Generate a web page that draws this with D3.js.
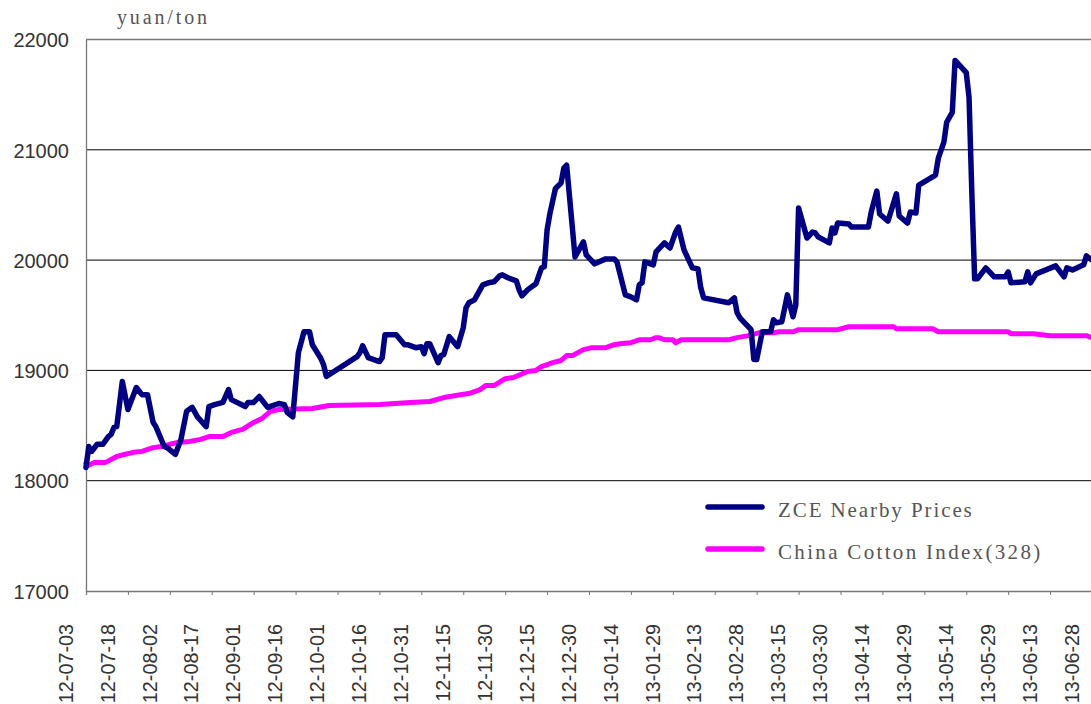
<!DOCTYPE html>
<html>
<head>
<meta charset="utf-8">
<script src="https://cdn.jsdelivr.net/npm/d3@7"></script>
<style>
  body { margin: 0; background: #fff; }
  svg { display: block; }
  .tick-label { font-family: 'Liberation Sans', Arial, sans-serif; fill: #333; }
  .serif { font-family: 'Liberation Serif', 'Times New Roman', serif; fill: #555; }
</style>
</head>
<body>
<div class="container"></div>
<script>
// ZCE nearby futures prices
const zceDates = [
  '2012-07-03', '2012-07-04', '2012-07-05', '2012-07-07', '2012-07-09', '2012-07-11', '2012-07-12', '2012-07-13',
  '2012-07-14', '2012-07-16', '2012-07-18', '2012-07-21', '2012-07-23', '2012-07-25', '2012-07-27', '2012-07-28',
  '2012-07-31', '2012-08-01', '2012-08-04', '2012-08-06', '2012-08-08', '2012-08-10', '2012-08-12', '2012-08-15',
  '2012-08-16', '2012-08-18', '2012-08-21', '2012-08-23', '2012-08-24', '2012-08-29', '2012-08-30', '2012-09-01',
  '2012-09-03', '2012-09-06', '2012-09-10', '2012-09-12', '2012-09-13', '2012-09-15', '2012-09-17', '2012-09-19',
  '2012-09-21', '2012-09-22', '2012-09-25', '2012-09-26', '2012-09-27', '2012-10-08', '2012-10-09', '2012-10-10',
  '2012-10-12', '2012-10-16', '2012-10-17', '2012-10-18', '2012-10-22', '2012-10-25', '2012-10-26', '2012-10-29',
  '2012-10-31', '2012-11-01', '2012-11-02', '2012-11-03', '2012-11-06', '2012-11-07', '2012-11-08', '2012-11-10',
  '2012-11-13', '2012-11-15', '2012-11-16', '2012-11-17', '2012-11-19', '2012-11-22', '2012-11-24', '2012-11-26',
  '2012-11-27', '2012-11-28', '2012-11-29', '2012-12-01', '2012-12-04', '2012-12-05', '2012-12-06', '2012-12-08',
  '2012-12-10', '2012-12-11', '2012-12-13', '2012-12-14', '2012-12-15', '2012-12-16', '2012-12-18', '2012-12-20',
  '2012-12-21', '2012-12-22', '2012-12-25', '2012-12-28', '2012-12-29', '2013-01-01', '2013-01-05', '2013-01-08',
  '2013-01-09', '2013-01-12', '2013-01-14', '2013-01-16', '2013-01-17', '2013-01-18', '2013-01-19', '2013-01-22',
  '2013-01-23', '2013-01-26', '2013-01-28', '2013-01-30', '2013-01-31', '2013-02-02', '2013-02-05', '2013-02-07',
  '2013-02-08', '2013-02-09', '2013-02-18', '2013-02-20', '2013-02-21', '2013-02-22', '2013-02-26', '2013-02-27',
  '2013-02-28', '2013-03-02', '2013-03-05', '2013-03-06', '2013-03-07', '2013-03-09', '2013-03-11', '2013-03-13',
  '2013-03-14', '2013-03-15', '2013-03-18', '2013-03-20', '2013-03-21', '2013-03-22', '2013-03-26', '2013-03-27',
  '2013-03-28', '2013-03-29', '2013-04-02', '2013-04-03', '2013-04-09', '2013-04-10', '2013-04-12', '2013-04-13',
  '2013-04-16', '2013-04-19', '2013-04-20', '2013-04-23', '2013-04-24', '2013-04-26', '2013-04-27', '2013-05-03',
  '2013-05-04', '2013-05-06', '2013-05-07', '2013-05-09', '2013-05-10', '2013-05-14', '2013-05-15', '2013-05-16',
  '2013-05-17', '2013-05-18', '2013-05-21', '2013-05-24', '2013-05-28', '2013-05-29', '2013-05-30', '2013-06-04',
  '2013-06-05', '2013-06-06', '2013-06-08', '2013-06-15', '2013-06-18', '2013-06-19', '2013-06-21', '2013-06-25',
  '2013-06-26', '2013-06-28'
];
const zcePrices = [
  18120, 18310, 18265, 18330, 18330, 18400, 18420, 18483,
  18490, 18900, 18645, 18845, 18780, 18780, 18530, 18490,
  18310, 18300, 18240, 18375, 18630, 18665, 18575, 18490,
  18672, 18690, 18710, 18826, 18735, 18672, 18710, 18710,
  18763, 18665, 18700, 18690, 18620, 18580, 19160, 19350,
  19350, 19233, 19110, 19052, 18945, 19125, 19160, 19224,
  19116, 19080, 19116, 19324, 19324, 19233, 19233, 19206,
  19215, 19152, 19242, 19242, 19070, 19134, 19143, 19306,
  19215, 19387, 19568, 19613, 19640, 19776, 19794, 19803,
  19830, 19857, 19866, 19840, 19812, 19730, 19676, 19730,
  19767, 19785, 19930, 19940, 20273, 20420, 20650, 20698,
  20834, 20860, 20029, 20165, 20047, 19966, 20011, 20011,
  19984, 19685, 19667, 19640, 19776, 19794, 19984, 19957,
  20074, 20156, 20110, 20255, 20300, 20092, 19930, 19920,
  19749, 19658, 19613, 19658, 19523, 19477, 19369, 19098,
  19098, 19350, 19350, 19459, 19432, 19441, 19685, 19486,
  19595, 20472, 20200, 20255, 20246, 20210, 20156, 20291,
  20246, 20336, 20327, 20300, 20300, 20436, 20626, 20418,
  20354, 20600, 20400, 20336, 20436, 20427, 20680, 20770,
  20924, 21069, 21250, 21340, 21810, 21700, 21476, 20608,
  19830, 19830, 19930, 19848, 19848, 19893, 19794, 19803,
  19893, 19794, 19875, 19948, 19848, 19930, 19911, 19957,
  20038, 20000
];

// China Cotton Index (328)
const cciDates = [
  '2012-07-03', '2012-07-04', '2012-07-06', '2012-07-10', '2012-07-14', '2012-07-17', '2012-07-20', '2012-07-23',
  '2012-07-27', '2012-07-30', '2012-08-02', '2012-08-05', '2012-08-09', '2012-08-13', '2012-08-16', '2012-08-21',
  '2012-08-24', '2012-08-28', '2012-09-01', '2012-09-04', '2012-09-07', '2012-09-10', '2012-09-22', '2012-09-28',
  '2012-10-16', '2012-10-27', '2012-11-03', '2012-11-08', '2012-11-14', '2012-11-17', '2012-11-21', '2012-11-23',
  '2012-11-26', '2012-11-30', '2012-12-03', '2012-12-08', '2012-12-11', '2012-12-13', '2012-12-17', '2012-12-20',
  '2012-12-22', '2012-12-24', '2012-12-28', '2012-12-31', '2013-01-05', '2013-01-08', '2013-01-10', '2013-01-14',
  '2013-01-17', '2013-01-21', '2013-01-23', '2013-01-24', '2013-01-26', '2013-01-29', '2013-01-30', '2013-02-01',
  '2013-02-18', '2013-02-21', '2013-02-25', '2013-03-01', '2013-03-06', '2013-03-08', '2013-03-13', '2013-03-15',
  '2013-03-29', '2013-04-02', '2013-04-18', '2013-04-19', '2013-05-02', '2013-05-04', '2013-05-29', '2013-05-30',
  '2013-06-07', '2013-06-13', '2013-06-26', '2013-06-28'
];
const cciPrices = [
  18160, 18140, 18166, 18166, 18220, 18240, 18257, 18266,
  18300, 18310, 18330, 18347, 18356, 18375, 18400, 18400,
  18438, 18465, 18528, 18565, 18628, 18645, 18655, 18682,
  18690, 18710, 18718, 18754, 18780, 18790, 18826, 18862,
  18862, 18925, 18935, 18990, 19000, 19034, 19070, 19090,
  19134, 19134, 19188, 19206, 19206, 19233, 19242, 19251,
  19278, 19278, 19297, 19297, 19278, 19278, 19251, 19278,
  19278, 19297, 19315, 19342, 19342, 19350, 19350, 19369,
  19369, 19396, 19396, 19378, 19378, 19350, 19350, 19333,
  19333, 19315, 19315, 19297
];

const tickDates = [
  '2012-07-03', '2012-07-18', '2012-08-02', '2012-08-17', '2012-09-01', '2012-09-16', '2012-10-01',
  '2012-10-16', '2012-10-31', '2012-11-15', '2012-11-30', '2012-12-15', '2012-12-30', '2013-01-14',
  '2013-01-29', '2013-02-13', '2013-02-28', '2013-03-15', '2013-03-30', '2013-04-14', '2013-04-29',
  '2013-05-14', '2013-05-29', '2013-06-13', '2013-06-28'
];
const yTicks = [17000, 18000, 19000, 20000, 21000, 22000];
const seriesNames = ['ZCE Nearby Prices', 'China Cotton Index(328)'];
const seriesColors = ['#000080', '#ff00ff'];

const width = 1091;
const height = 704;
const plot = { left: 86, top: 39.5, bottom: 591, right: 1092 };
const parse = d3.utcParse('%Y-%m-%d');

const svg = d3.select('.container')
  .append('svg')
  .attr('width', width)
  .attr('height', height);

// Scales
const xScale = d3.scaleUtc()
  .domain([parse(tickDates[0]), parse(tickDates[tickDates.length - 1])])
  .range([plot.left, plot.right]);

const yScale = d3.scaleLinear()
  .domain([17000, 22000])
  .range([plot.bottom, plot.top]);

// Gridlines
svg.append('g')
  .selectAll('line')
  .data(yTicks.slice(1, -1))
  .join('line')
  .attr('x1', plot.left)
  .attr('x2', width)
  .attr('y1', d => yScale(d))
  .attr('y2', d => yScale(d))
  .attr('stroke', '#000')
  .attr('stroke-width', 1);

// Top border
svg.append('line')
  .attr('x1', plot.left).attr('x2', width)
  .attr('y1', yScale(22000)).attr('y2', yScale(22000))
  .attr('stroke', '#777').attr('stroke-width', 1.3);

// Y axis
const yAxis = svg.append('g')
  .attr('transform', `translate(${plot.left}, 0)`)
  .call(d3.axisLeft(yScale).tickValues(yTicks).tickSize(0).tickPadding(17).tickFormat(d3.format('d')));
yAxis.select('.domain').attr('stroke', '#777').attr('stroke-width', 1.3);
yAxis.selectAll('text')
  .attr('class', 'tick-label')
  .style('font-size', '20px')
  .attr('dy', '0.36em');

// X axis, labels sit half a step left of their tick
const xAxis = svg.append('g')
  .attr('transform', `translate(0, ${plot.bottom})`)
  .call(d3.axisBottom(xScale)
    .tickValues(tickDates.map(parse))
    .tickSize(4)
    .tickFormat(d3.utcFormat('%y-%m-%d')));
xAxis.select('.domain').attr('stroke', '#777').attr('stroke-width', 1.3);
xAxis.selectAll('.tick line').attr('stroke', '#777');
const halfStep = (xScale(parse(tickDates[1])) - xScale(parse(tickDates[0]))) / 2;
xAxis.selectAll('.tick text')
  .attr('class', 'tick-label')
  .style('font-size', '19.8px')
  .attr('text-anchor', 'end')
  .attr('transform', `translate(${-halfStep}, 33) rotate(-90)`)
  .attr('x', 0)
  .attr('y', 0)
  .attr('dy', '0.36em');

// Axis unit
svg.append('text')
  .attr('class', 'serif')
  .attr('x', 117)
  .attr('y', 24)
  .attr('textLength', 90)
  .style('font-size', '20px')
  .text('yuan/ton');

// Lines
const line = d3.line()
  .x(d => xScale(d.date))
  .y(d => yScale(d.value));

const series = [
  zceDates.map((d, i) => ({ date: parse(d), value: zcePrices[i] })),
  cciDates.map((d, i) => ({ date: parse(d), value: cciPrices[i] }))
];

svg.selectAll('.series')
  .data(series.slice().reverse())
  .join('path')
  .attr('class', 'series')
  .attr('d', line)
  .attr('fill', 'none')
  .attr('stroke', (d, i) => seriesColors[1 - i])
  .attr('stroke-width', (d, i) => i === 0 ? 5 : 5.5)
  .attr('stroke-linejoin', 'round')
  .attr('stroke-linecap', 'round');

// Legend
const legend = svg.append('g')
  .attr('transform', 'translate(708, 507)');

const legendRows = legend.selectAll('g')
  .data(seriesNames)
  .join('g')
  .attr('transform', (d, i) => `translate(0, ${i * 42})`);

legendRows.append('line')
  .attr('x1', 0)
  .attr('x2', 54)
  .attr('stroke', (d, i) => seriesColors[i])
  .attr('stroke-width', 5.5)
  .attr('stroke-linecap', 'round');

legendRows.append('text')
  .attr('class', 'serif')
  .attr('x', 70)
  .attr('y', 10)
  .attr('textLength', d => d.length * 11.4)
  .style('font-size', '21px')
  .text(d => d);
</script>
</body>
</html>
